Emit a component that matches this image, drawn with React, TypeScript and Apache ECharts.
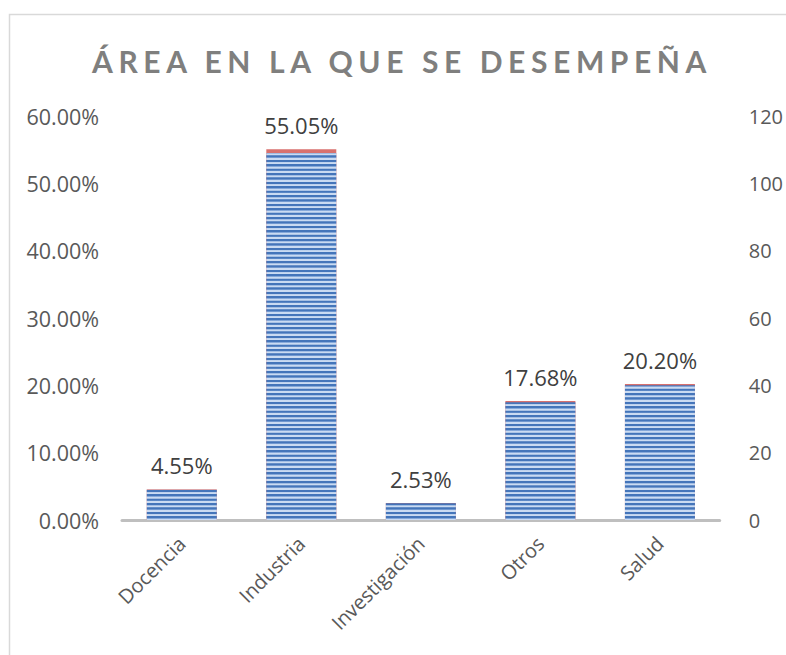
import React, { useEffect, useRef } from "react";
import * as echarts from "echarts";

const categories = ["Docencia", "Industria", "Investigación", "Otros", "Salud"];
const percentValues = [4.55, 55.05, 2.53, 17.68, 20.2];
const countValues = [9, 109, 5, 35, 40];
const leftTicks = { min: 0, max: 60, interval: 10 };
const rightTicks = { min: 0, max: 120, interval: 20 };
const titleText = "ÁREA EN LA QUE SE DESEMPEÑA";

const GRID_TOP = 116;
const GRID_BOTTOM_Y = 520;

function stripeGradient() {
  const H = GRID_BOTTOM_Y - GRID_TOP;
  const P = 4.4;
  const dark = "#4475ba";
  const mid = "#86a9da";
  const light = "#cadbf2";
  const stops: { offset: number; color: string }[] = [];
  const c = (v: number) => Math.max(0, Math.min(1, v / H));
  for (let y = 0; y < H; y += P) {
    stops.push({ offset: c(y), color: dark });
    stops.push({ offset: c(y + 1.5), color: dark });
    stops.push({ offset: c(y + 2.1), color: mid });
    stops.push({ offset: c(y + 2.6), color: light });
    stops.push({ offset: c(y + P - 0.4), color: light });
  }
  return new echarts.graphic.LinearGradient(0, GRID_TOP, 0, GRID_BOTTOM_Y, stops, true);
}

export default function App() {
  const ref = useRef<HTMLDivElement>(null);
  useEffect(() => {
    if (!ref.current) return;
    const chart = echarts.init(ref.current, null, { renderer: "svg" });
    const font = "'Open Sans', 'Noto Sans', sans-serif";
    const titleFont = "Lato, 'Open Sans', sans-serif";
    chart.setOption({
      animation: false,
      backgroundColor: "#ffffff",
      textStyle: { fontFamily: font },
      graphic: [
        {
          type: "rect",
          shape: { x: 9.5, y: 14.5, width: 820, height: 700 },
          style: { fill: "none", stroke: "#d9d9d9", lineWidth: 1.5 },
          silent: true,
        },
        {
          type: "text",
          x: 402,
          y: 61,
          style: {
            text: titleText,
            fill: "#7f7f7e",
            font: "bold 30px " + titleFont,
            textAlign: "center",
            textVerticalAlign: "middle",
          },
        },
      ],
      grid: { left: 122, right: 64, top: GRID_TOP, bottom: 655 - GRID_BOTTOM_Y, containLabel: false },
      xAxis: {
        type: "category",
        data: categories,
        axisLine: { show: true, lineStyle: { color: "#bfbfbf", width: 3 } },
        axisTick: { show: false },
        axisLabel: { rotate: 45, color: "#595959", fontSize: 20, margin: 20, fontFamily: font },
      },
      yAxis: [
        {
          type: "value",
          min: leftTicks.min,
          max: leftTicks.max,
          interval: leftTicks.interval,
          axisLine: { show: false },
          axisTick: { show: false },
          splitLine: { show: false },
          axisLabel: {
            color: "#595959",
            fontSize: 21.5,
            margin: 23,
            fontFamily: font,
            formatter: (v: number) => v.toFixed(2) + "%",
          },
        },
        {
          type: "value",
          min: rightTicks.min,
          max: rightTicks.max,
          interval: rightTicks.interval,
          position: "right",
          axisLine: { show: false },
          axisTick: { show: false },
          splitLine: { show: false },
          axisLabel: { color: "#595959", fontSize: 20, margin: 29, fontFamily: font },
        },
      ],
      series: [
        {
          name: "Porcentaje",
          type: "bar",
          yAxisIndex: 0,
          data: percentValues,
          barWidth: 70,
          barGap: "-100%",
          itemStyle: { color: "#d8716e" },
          label: {
            show: true,
            position: "top",
            distance: 13,
            color: "#404040",
            fontSize: 22,
            fontFamily: font,
            formatter: (p: any) => Number(p.value).toFixed(2) + "%",
          },
        },
        {
          name: "Cantidad",
          type: "bar",
          yAxisIndex: 1,
          data: countValues,
          barWidth: 70,
          barGap: "-100%",
          itemStyle: { color: stripeGradient() },
        },
      ],
    });
    return () => chart.dispose();
  }, []);
  return (
    <>
      <style>{`text[fill="#7f7f7e"]{letter-spacing:5.6px;}`}</style>
      <div
        ref={ref}
        style={{ position: "absolute", left: 0, top: 0, width: 786, height: 655 }}
      />
    </>
  );
}
